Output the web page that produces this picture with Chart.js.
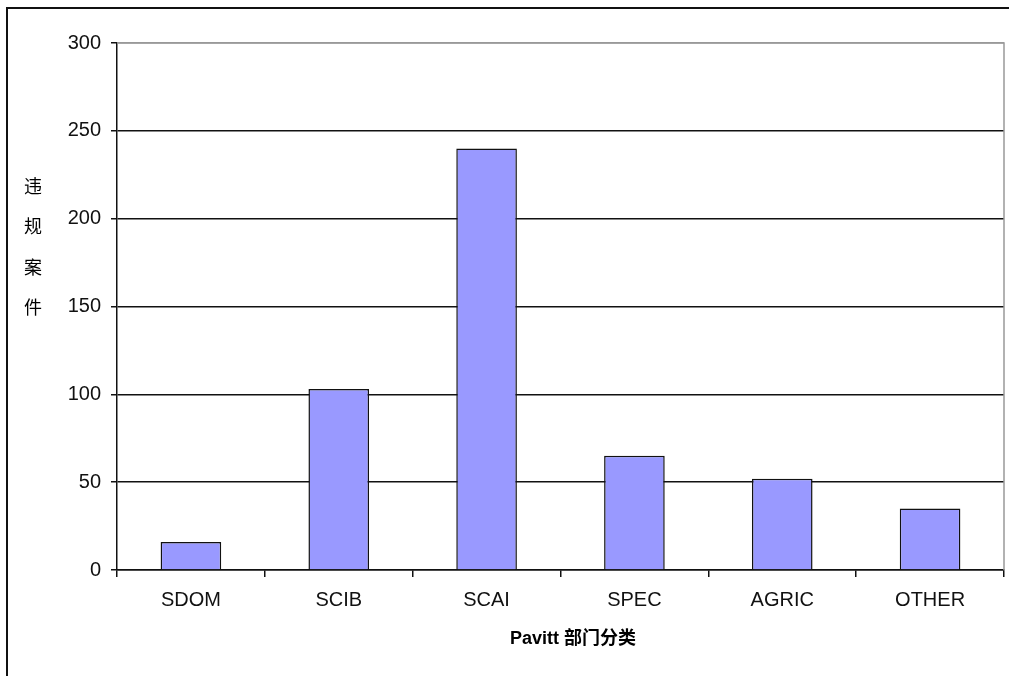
<!DOCTYPE html>
<html>
<head>
<meta charset="utf-8">
<script src="https://cdn.jsdelivr.net/npm/chart.js@4/dist/chart.umd.min.js"></script>
<style>
  html, body { margin: 0; padding: 0; background: #fff; }
  #wrap { position: relative; width: 1009px; height: 676px; }
</style>
</head>
<body>
<div id="wrap"><canvas id="barChart" width="1009" height="676"></canvas></div>
<script>
// categories and values
const categories = ["SDOM", "SCIB", "SCAI", "SPEC", "AGRIC", "OTHER"];
const cases = [16, 103, 240, 65, 52, 35];
const yTitleChars = ["违", "规", "案", "件"];
const xTitle = "Pavitt 部门分类";

const FONT = "'Liberation Sans', Arial, 'Noto Sans CJK SC', sans-serif";

// frame and axis titles drawn straight on the canvas
const decorations = {
  id: "decorations",
  beforeDraw(chart) {
    const ctx = chart.ctx;
    ctx.save();
    ctx.fillStyle = "#fff";
    ctx.fillRect(0, 0, chart.width, chart.height);
    ctx.strokeStyle = "#111";
    ctx.lineWidth = 2;
    ctx.beginPath();
    ctx.moveTo(7, chart.height + 5);
    ctx.lineTo(7, 8);
    ctx.lineTo(chart.width + 5, 8);
    ctx.stroke();
    ctx.restore();
  },
  afterDraw(chart) {
    const ctx = chart.ctx;
    const area = chart.chartArea;
    ctx.save();
    // gray border on top and right of plot area
    ctx.strokeStyle = "#999";
    ctx.lineWidth = 1.5;
    ctx.beginPath();
    ctx.moveTo(area.left, area.top);
    ctx.lineTo(area.right, area.top);
    ctx.lineTo(area.right, area.bottom);
    ctx.stroke();

    ctx.fillStyle = "#000";
    ctx.textAlign = "center";
    ctx.textBaseline = "middle";
    ctx.font = "18px 'Noto Sans CJK SC', sans-serif";
    yTitleChars.forEach((ch, i) => {
      ctx.fillText(ch, 33, 186 + i * 40.5);
    });
    ctx.font = "bold 18px 'Liberation Sans', Arial, 'Noto Sans CJK SC', sans-serif";
    ctx.fillText(xTitle, 573, 639);
    ctx.restore();
  }
};

const ctx = document.getElementById("barChart").getContext("2d");

new Chart(ctx, {
  type: "bar",
  data: {
    labels: categories,
    datasets: [{
      data: cases,
      backgroundColor: "#9999ff",
      borderColor: "#111",
      borderWidth: 1.5,
      borderSkipped: "bottom",
      categoryPercentage: 1,
      barPercentage: 0.41
    }]
  },
  options: {
    responsive: false,
    animation: false,
    layout: { padding: { top: 43, right: 5, left: 0, bottom: 0 } },
    plugins: {
      legend: { display: false },
      tooltip: { enabled: false }
    },
    scales: {
      x: {
        offset: true,
        afterFit: (scale) => { scale.height = 106; },
        grid: {
          offset: true,
          drawOnChartArea: false,
          drawTicks: true,
          tickLength: 7,
          color: "#111",
          lineWidth: 1.5
        },
        border: { color: "#111", width: 1.5 },
        ticks: {
          color: "#111",
          padding: 11,
          font: { family: FONT, size: 20 }
        }
      },
      y: {
        min: 0,
        max: 300,
        afterFit: (scale) => { scale.width = 117; },
        grid: {
          color: (c) => (c.tick && c.tick.value === 300 ? "#999" : "#111"),
          lineWidth: 1.5,
          drawTicks: true,
          tickLength: 6,
          tickColor: "#111"
        },
        border: { color: "#111", width: 1.5 },
        ticks: {
          stepSize: 50,
          color: "#111",
          padding: 10,
          font: { family: FONT, size: 20 }
        }
      }
    }
  },
  plugins: [decorations]
});
</script>
</body>
</html>
